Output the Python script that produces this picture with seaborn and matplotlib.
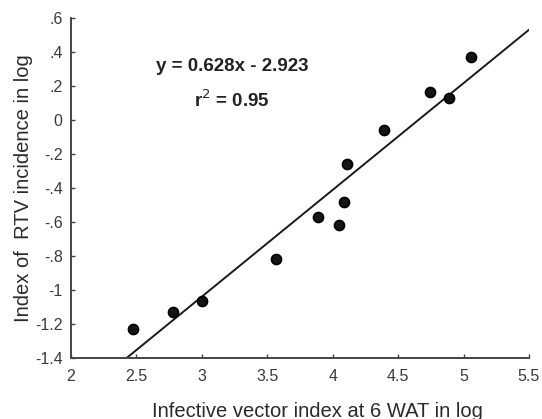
import numpy as np
import pandas as pd
import matplotlib
matplotlib.use("Agg")
import matplotlib.pyplot as plt
import seaborn as sns

# Log infective vector index (6 WAT) vs log RTV incidence index
vector_index = [2.47, 2.78, 3.00, 3.57, 3.89, 4.05, 4.09, 4.11, 4.39, 4.74, 4.89, 5.06]
rtv_incidence = [-1.23, -1.13, -1.065, -0.82, -0.57, -0.615, -0.48, -0.26, -0.06, 0.165, 0.13, 0.37]

slope = 0.628
intercept = -2.923
r_squared = 0.95

x_ticks = [2, 2.5, 3, 3.5, 4, 4.5, 5, 5.5]
x_tick_labels = ["2", "2.5", "3", "3.5", "4", "4.5", "5", "5.5"]
y_ticks = [0.6, 0.4, 0.2, 0, -0.2, -0.4, -0.6, -0.8, -1.0, -1.2, -1.4]
y_tick_labels = [".6", ".4", ".2", "0", "-.2", "-.4", "-.6", "-.8", "-1", "-1.2", "-1.4"]

sns.set_theme(style="white")
plt.rcParams["font.family"] = ["Liberation Sans", "DejaVu Sans"]

fig = plt.figure(figsize=(5.42, 4.19), dpi=100)
ax = fig.add_axes([0.131, 0.1456, 0.845, 0.8114])

df = pd.DataFrame({"x": vector_index, "y": rtv_incidence})
sns.scatterplot(data=df, x="x", y="y", ax=ax, s=52, color="#151515",
                edgecolor="#000000", linewidth=1.2, zorder=3)

x0 = (-1.4 - intercept) / slope
fit_x = np.array([x0, 5.5])
fit = pd.DataFrame({"x": fit_x, "y": slope * fit_x + intercept})
sns.lineplot(data=fit, x="x", y="y", ax=ax, color="#1a1a1a", linewidth=1.4)

ax.set_xlim(2, 5.5)
ax.set_ylim(-1.4, 0.6)
ax.set_xticks(x_ticks)
ax.set_xticklabels(x_tick_labels)
ax.set_yticks(y_ticks)
ax.set_yticklabels(y_tick_labels)
ax.tick_params(axis="x", pad=8)
ax.tick_params(axis="y", pad=6)
ax.tick_params(axis="both", direction="in", length=3, width=1, color="#444444",
               labelsize=11.5, labelcolor="#3a3a3a", left=True, bottom=True)

for side in ["top", "right"]:
    ax.spines[side].set_visible(False)
for side in ["left", "bottom"]:
    ax.spines[side].set_color("#444444")
    ax.spines[side].set_linewidth(1.4)

ax.set_xlabel("Infective vector index at 6 WAT in log", fontsize=14.5,
              color="#2a2a2a")
ax.xaxis.set_label_coords(0.539, -0.128)
ax.set_ylabel("Index of  RTV incidence in log", fontsize=14.5,
              color="#2a2a2a", labelpad=1.7)

ax.text(3.23, 0.312, f"y = {slope}x - {abs(intercept)}", fontsize=13.5,
        fontweight="bold", color="#222222", ha="center", va="center")
ax.text(3.23, 0.118, f"r$^{{2}}$ = {r_squared}", fontsize=13.5,
        fontweight="bold", color="#222222", ha="center", va="center")

fig.savefig("out.png", dpi=100)
